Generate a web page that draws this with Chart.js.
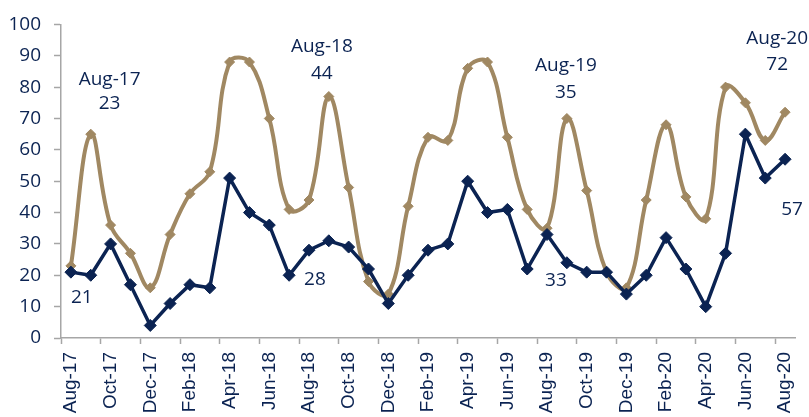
<!DOCTYPE html>
<html>
<head>
<meta charset="utf-8">
<script src="https://cdn.jsdelivr.net/npm/chart.js@4"></script>
<style>
  html, body { margin: 0; padding: 0; background: #fff; }
  #wrap { width: 809px; height: 417px; }
</style>
</head>
<body>
<div id="wrap"><canvas id="chart"></canvas></div>
<script>
const months = [
    'Aug-17', 'Sep-17', 'Oct-17', 'Nov-17', 'Dec-17', 'Jan-18', 'Feb-18', 'Mar-18', 'Apr-18', 'May-18',
    'Jun-18', 'Jul-18', 'Aug-18', 'Sep-18', 'Oct-18', 'Nov-18', 'Dec-18', 'Jan-19', 'Feb-19', 'Mar-19',
    'Apr-19', 'May-19', 'Jun-19', 'Jul-19', 'Aug-19', 'Sep-19', 'Oct-19', 'Nov-19', 'Dec-19', 'Jan-20',
    'Feb-20', 'Mar-20', 'Apr-20', 'May-20', 'Jun-20', 'Jul-20', 'Aug-20'
];

const navySeries = [
    21, 20, 30, 17, 4, 11, 17, 16, 51, 40,
    36, 20, 28, 31, 29, 22, 11, 20, 28, 30,
    50, 40, 41, 22, 33, 24, 21, 21, 14, 20,
    32, 22, 10, 27, 65, 51, 57
];

const tanSeries = [
    23, 65, 36, 27, 16, 33, 46, 53, 88, 88,
    70, 41, 44, 77, 48, 18, 14, 42, 64, 63,
    86, 88, 64, 41, 35, 70, 47, 21, 16, 44,
    68, 45, 38, 80, 75, 63, 72
];

// text notes, placed in data units (category index, axis value)
const notes = [
    { text: 'Aug-17', x: 1.95, y: 82.5 },
    { text: '23', x: 1.95, y: 74.8 },
    { text: '21', x: 0.55, y: 12.9 },
    { text: 'Aug-18', x: 12.65, y: 92.8 },
    { text: '44', x: 12.65, y: 84.3 },
    { text: '28', x: 12.3, y: 18.5 },
    { text: 'Aug-19', x: 24.95, y: 86.8 },
    { text: '35', x: 24.95, y: 78.4 },
    { text: '33', x: 24.45, y: 18.2 },
    { text: 'Aug-20', x: 35.6, y: 95.6 },
    { text: '72', x: 35.6, y: 87.1 },
    { text: '57', x: 36.35, y: 41.1 }
];

const NAVY = '#0b2352';
const TAN = '#a08862';
const AXIS_GRAY = '#a6a6a6';
const FONT = "'Open Sans', 'DejaVu Sans', sans-serif";
const AXIS_FONT = "'Liberation Sans', Arial, sans-serif";

const notesPlugin = {
    id: 'notes',
    afterDatasetsDraw(chart) {
        const { ctx, scales } = chart;
        ctx.save();
        ctx.font = '19px ' + FONT;
        ctx.fillStyle = NAVY;
        ctx.textAlign = 'center';
        ctx.textBaseline = 'middle';
        notes.forEach(n => {
            ctx.fillText(n.text, scales.x.getPixelForValue(n.x), scales.y.getPixelForValue(n.y));
        });
        ctx.restore();
    }
};

new Chart(document.getElementById('chart'), {
    type: 'line',
    data: {
        labels: months,
        datasets: [
            {
                label: 'Navy',
                data: navySeries,
                borderColor: NAVY,
                backgroundColor: NAVY,
                borderWidth: 3.5,
                tension: 0,
                pointStyle: 'rectRot',
                pointRadius: 6,
                pointBorderWidth: 1,
                order: 1
            },
            {
                label: 'Tan',
                data: tanSeries,
                borderColor: TAN,
                backgroundColor: TAN,
                borderWidth: 4,
                tension: 0.4,
                pointStyle: 'rectRot',
                pointRadius: 5,
                pointBorderWidth: 1,
                order: 2
            }
        ]
    },
    options: {
        responsive: true,
        maintainAspectRatio: false,
        animation: false,
        layout: {
            autoPadding: false,
            padding: { top: 19, right: 14, left: 0, bottom: 0 }
        },
        plugins: {
            legend: { display: false },
            tooltip: { enabled: false }
        },
        scales: {
            x: {
                offset: true,
                afterFit(scale) {
                    scale.height = 79;
                    scale.paddingLeft = 0;
                    scale.paddingRight = 0;
                },
                grid: {
                    offset: true,
                    drawOnChartArea: false,
                    tickLength: 6,
                    tickWidth: 1.5,
                    tickColor: ctx => (ctx.index % 2 === 0 ? AXIS_GRAY : 'rgba(0,0,0,0)')
                },
                border: { color: AXIS_GRAY, width: 1.5 },
                ticks: {
                    autoSkip: false,
                    minRotation: 90,
                    maxRotation: 90,
                    padding: 8,
                    color: NAVY,
                    font: { family: AXIS_FONT, size: 19 },
                    callback(value, index) {
                        return index % 2 === 0 ? this.getLabelForValue(value) : '';
                    }
                }
            },
            y: {
                min: 0,
                max: 100,
                afterFit(scale) { scale.width = 61; },
                grid: {
                    drawOnChartArea: false,
                    tickLength: 7,
                    tickWidth: 1.5,
                    tickColor: AXIS_GRAY
                },
                border: { color: AXIS_GRAY, width: 1.5 },
                ticks: {
                    stepSize: 10,
                    padding: 13,
                    color: NAVY,
                    font: { family: FONT, size: 19 }
                }
            }
        }
    },
    plugins: [notesPlugin]
});
</script>
</body>
</html>
